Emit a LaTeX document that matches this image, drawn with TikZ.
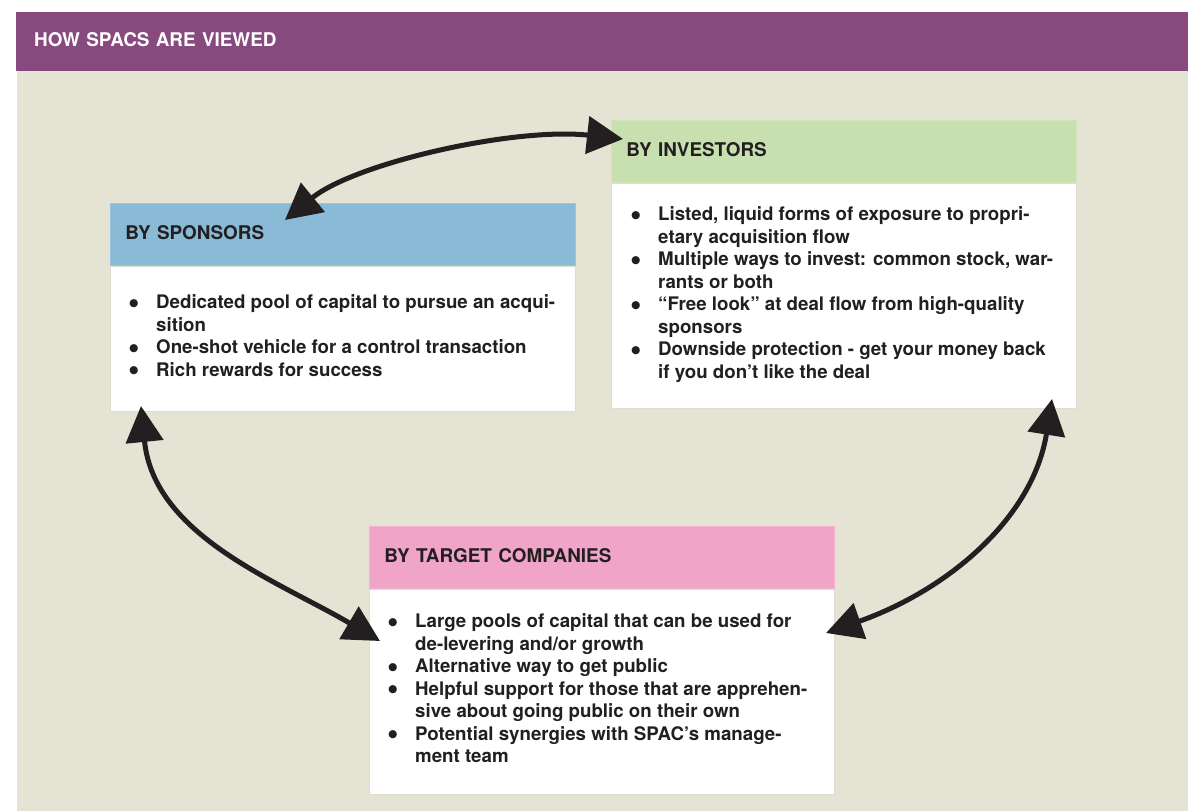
\documentclass[tikz,border=0pt]{standalone}
\usepackage{fontspec}
\usepackage{array}
\usepackage{graphicx}
\setmainfont{TeX Gyre Heros}
\usetikzlibrary{arrows.meta,calc}

\definecolor{bandpurple}{RGB}{135,73,126}
\definecolor{paper}{RGB}{229,227,211}
\definecolor{sponsorblue}{RGB}{137,187,214}
\definecolor{investorgreen}{RGB}{200,224,176}
\definecolor{targetpink}{RGB}{240,165,200}
\definecolor{ink}{RGB}{35,31,32}
\definecolor{edge}{RGB}{222,220,206}

\newcommand{\headfont}{\fontsize{18.9}{22.5}\selectfont\bfseries}
\newcommand{\listfont}{\fontsize{18.7}{22.5}\selectfont\bfseries}
\newcommand{\dotmark}{\smash{\raisebox{-4.4pt}{\scalebox{1.75}{•}}}}
\newcolumntype{B}{@{}p{28pt}@{}}

\tikzset{
  band/.style={anchor=north west, fill=bandpurple, text=white,
    minimum width=1172pt, minimum height=59pt, text width=1136pt,
    inner xsep=18pt, inner ysep=0pt, align=left,
    text height=10.5pt, text depth=0pt, font=\headfont},
  head/.style={anchor=north west, fill=#1, draw=#1!85!white, line width=0.8pt,
    minimum width=465pt, minimum height=62pt, text width=435pt,
    inner xsep=15pt, inner ysep=0pt, align=left,
    text height=10.5pt, text depth=0pt, font=\headfont, text=ink},
  body/.style={anchor=north west, fill=white, draw=edge, line width=0.8pt,
    minimum width=465pt, minimum height=#1, inner sep=0pt},
  items/.style={anchor=base west, inner sep=0pt, font=\listfont, text=ink},
  link/.style={line width=5pt, draw=ink,
    {Triangle[length=36pt,width=37pt]}-{Triangle[length=36pt,width=37pt]}}
}

\begin{document}
\begin{tikzpicture}[x=1pt,y=-1pt]
  \useasboundingbox (0,0) rectangle (1188,811);

  % page ground and title band
  \fill[paper] (17,71) rectangle (1188,811);
  \node[band] (title) at (16,12) {HOW SPACS ARE VIEWED};

  % sponsors panel
  \node[head=sponsorblue] (sponsorsHead) at (110,203) {BY SPONSORS};
  \node[body=145pt] (sponsorsBody) at (sponsorsHead.south west) {};
  \node[items] (sponsorsList) at ($(sponsorsBody.north west)+(18,43)$) {%
    \begin{tabular}[t]{Bl@{}}
      \dotmark & Dedicated pool of capital to pursue an acqui-\\
               & sition\\
      \dotmark & One-shot vehicle for a control transaction\\
      \dotmark & Rich rewards for success
    \end{tabular}};

  % investors panel
  \node[head=investorgreen] (investorsHead) at (611,120) {BY INVESTORS};
  \node[body=225pt] (investorsBody) at (investorsHead.south west) {};
  \node[items] (investorsList) at ($(investorsBody.north west)+(19,38)$) {%
    \begin{tabular}[t]{Bl@{}}
      \dotmark & Listed, liquid forms of exposure to propri-\\
               & etary acquisition flow\\
      \dotmark & Multiple ways to invest: common stock, war-\\
               & rants or both\\
      \dotmark & “Free look” at deal flow from high-quality\\
               & sponsors\\
      \dotmark & Downside protection - get your money back\\
               & if you don’t like the deal
    \end{tabular}};

  % target companies panel
  \node[head=targetpink] (targetHead) at (369,526) {BY TARGET COMPANIES};
  \node[body=205pt] (targetBody) at (targetHead.south west) {};
  \node[items] (targetList) at ($(targetBody.north west)+(18,39)$) {%
    \begin{tabular}[t]{Bl@{}}
      \dotmark & Large pools of capital that can be used for\\
               & de-levering and/or growth\\
      \dotmark & Alternative way to get public\\
      \dotmark & Helpful support for those that are apprehen-\\
               & sive about going public on their own\\
      \dotmark & Potential synergies with SPAC’s manage-\\
               & ment team
    \end{tabular}};

  % arrow ends
  \coordinate (sTop) at (285,220);
  \coordinate (iLeft) at (623,139);
  \coordinate (sBottom) at (141,406);
  \coordinate (tLeft) at (380,641);
  \coordinate (iBottom) at (1052,399);
  \coordinate (tRight) at (826,633);

  % two-way links between the three views
  \draw[link] (sTop) .. controls (355,163) and (514,127) .. (iLeft);
  \draw[link] (sBottom) .. controls (154,536) and (278,581) .. (tLeft);
  \draw[link] (iBottom) .. controls (1033,518) and (948,590) .. (tRight);
\end{tikzpicture}
\end{document}
